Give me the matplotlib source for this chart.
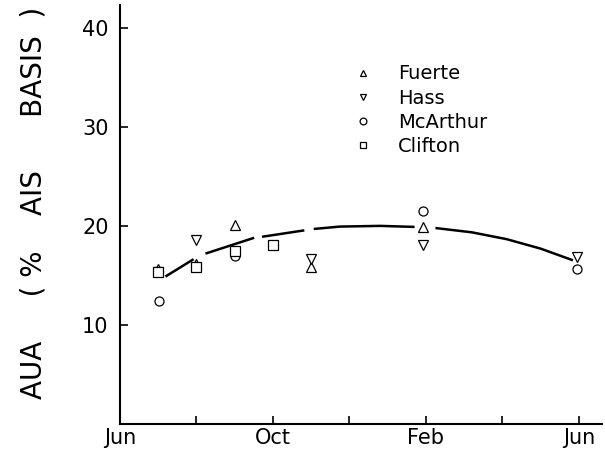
import numpy as np
import matplotlib
matplotlib.use("Agg")
import matplotlib.pyplot as plt

plt.rcParams['font.family'] = ['DejaVu Sans']

# months after June (0 = Jun, 12 = next Jun)
fuerte_x = [1.0, 2.0, 3.0, 5.0, 7.92]
fuerte_y = [15.6, 16.2, 20.1, 15.9, 19.9]

hass_x = [1.0, 2.0, 5.0, 7.92, 11.95]
hass_y = [15.3, 18.6, 16.7, 18.1, 16.9]

mcarthur_x = [1.03, 3.0, 4.0, 7.92, 11.95]
mcarthur_y = [12.45, 17.0, 18.1, 21.5, 15.6]

clifton_x = [1.0, 2.0, 3.0, 4.0]
clifton_y = [15.3, 15.9, 17.5, 18.1]

# fitted curve (nan = break in the line)
curve_x = [1.22, 1.90, np.nan, 2.27, 3.48, np.nan, 3.75, 4.79, np.nan,
           5.1, 5.75, 6.8, 7.67, np.nan, 8.28, 9.2, 10.11, 11.0, 11.81]
curve_y = [14.95, 16.57, np.nan, 17.24, 18.76, np.nan, 18.92, 19.53, np.nan,
           19.7, 19.93, 20.0, 19.9, np.nan, 19.77, 19.35, 18.66, 17.7, 16.57]

tick_pos = [0, 2, 4, 6, 8, 10, 12]
tick_lab = ['Jun', '', 'Oct', '', 'Feb', '', 'Jun']

fig = plt.figure(figsize=(6.05, 4.53), dpi=100)
ax = fig.add_axes([0.198, 0.064, 0.797, 0.925])

ax.plot(curve_x, curve_y, color='black', lw=1.8)

mk = dict(ls='none', mfc='white', mec='black', mew=0.9, ms=6.5)
ax.plot(fuerte_x, fuerte_y, marker='^', label='Fuerte', **mk)
ax.plot(hass_x, hass_y, marker='v', label='Hass', **mk)
ax.plot(mcarthur_x, mcarthur_y, marker='o', label='McArthur', **mk)
ax.plot(clifton_x, clifton_y, marker='s', label='Clifton', **mk)

ax.set_xlim(0, 12.6)
ax.set_ylim(0, 42.3)
ax.set_xticks(tick_pos)
ax.set_xticklabels(tick_lab, fontsize=15)
ax.set_yticks([10, 20, 30, 40])
ax.set_yticklabels(['10', '20', '30', '40'], fontsize=15)
ax.tick_params(direction='in', length=6, width=1.2, colors='black')
ax.tick_params(axis='y', pad=8)
ax.tick_params(axis='x', pad=3)

for s in ['top', 'right']:
    ax.spines[s].set_visible(False)
for s in ['left', 'bottom']:
    ax.spines[s].set_linewidth(1.5)

fig.text(0.055, 0.552, 'AUA     ( %    AIS      BASIS  )', rotation=90,
         fontsize=20, ha='center', va='center')

leg = ax.legend(loc='upper left', bbox_to_anchor=(0.448, 0.90), frameon=False,
                fontsize=14, markerscale=0.75, handlelength=1.0,
                handletextpad=1.3, labelspacing=0.27)

fig.savefig('out.png', dpi=100)
